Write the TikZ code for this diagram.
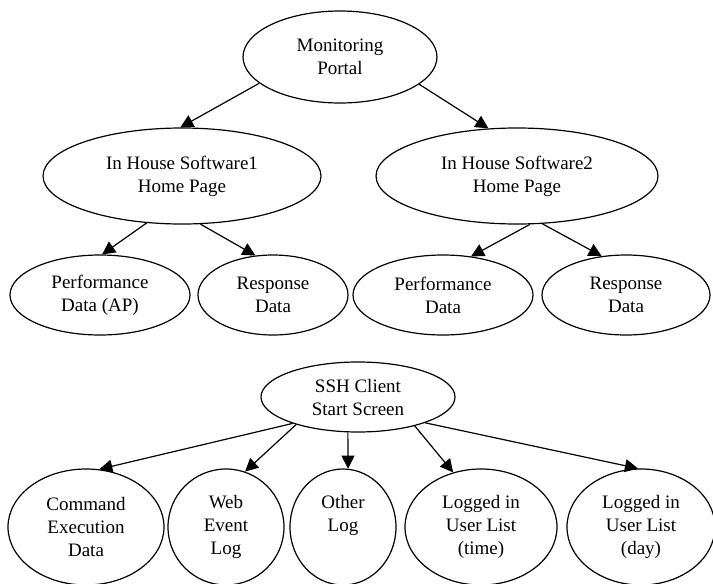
\documentclass[tikz,border=0pt]{standalone}
\usepackage{fontspec}
\setmainfont{Liberation Serif}
\newfontfamily\diagfont{Liberation Serif}
\usetikzlibrary{shapes.geometric,arrows.meta}
\begin{document}
\begin{tikzpicture}[x=1pt,y=-1pt,
  bub/.style={draw,ellipse,line width=1.2pt,inner sep=0pt,align=center,
    font=\diagfont\fontsize{19}{23}\selectfont},
  conn/.style={line width=1.2pt,-{Triangle[length=13pt,width=13pt]}}]
\useasboundingbox (0,0) rectangle (713,584);
\node[bub,minimum width=194pt,minimum height=92pt] (mp) at (340,57) {Monitoring\\Portal};
\node[bub,minimum width=278pt,minimum height=96pt] (h1) at (182,176) {In House Software1\\Home Page};
\node[bub,minimum width=282pt,minimum height=96pt] (h2) at (517,176) {In House Software2\\Home Page};
\node[bub,minimum width=180pt,minimum height=80pt] (pd1) at (100,295) {Performance\\Data (AP)};
\node[bub,minimum width=150pt,minimum height=80pt] (rd1) at (273,295) {Response\\Data};
\node[bub,minimum width=180pt,minimum height=80pt] (pd2) at (443,295) {Performance\\Data};
\node[bub,minimum width=168pt,minimum height=80pt] (rd2) at (626,295) {Response\\Data};
\node[bub,minimum width=194pt,minimum height=70pt] (ssh) at (358,397) {SSH Client\\Start Screen};
\node[bub,minimum width=156pt,minimum height=116pt] (cmd) at (86,527) {Command\\Execution\\Data};
\node[bub,minimum width=116pt,minimum height=116pt] (web) at (226,527) {Web\\Event\\Log};
\node[bub,minimum width=106pt,minimum height=116pt] (oth) at (343,527) {Other\\Log\\\vphantom{Lg}};
\node[bub,minimum width=152pt,minimum height=116pt] (tim) at (481,527) {Logged in\\User List\\(time)};
\node[bub,minimum width=148pt,minimum height=116pt] (day) at (641,527) {Logged in\\User List\\(day)};
\draw[conn] (mp.198) -- (h1.92);
\draw[conn] (mp.341) -- (h2.121);
\draw[conn] (h1.233) -- (pd1.87);
\draw[conn] (h1.291) -- (rd1.114);
\draw[conn] (h2.285) -- (pd2.54);
\draw[conn] (h2.298) -- (rd2.122);
\draw[conn] (ssh.202) -- (cmd.77);
\draw[conn] (ssh.204) -- (web.71);
\draw[conn] (ssh.254) -- (oth.85);
\draw[conn] (ssh.333) -- (tim.117);
\draw[conn] (ssh.339) -- (day.93);
\end{tikzpicture}
\end{document}
